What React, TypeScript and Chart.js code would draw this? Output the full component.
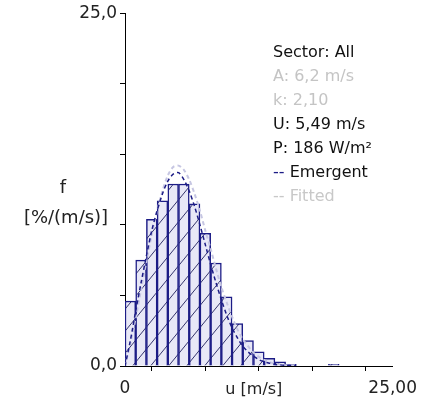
import React, { useEffect, useRef } from 'react';
import { Chart, registerables } from 'chart.js';

Chart.register(...registerables);

// Histogram bins (bin centres, m/s) and frequencies (%/(m/s))
const binCenters = [0.5, 1.5, 2.5, 3.5, 4.5, 5.5, 6.5, 7.5, 8.5, 9.5, 10.5, 11.5, 12.5, 13.5, 14.5, 15.5, 19.5];
const binValues = [4.6, 7.5, 10.4, 11.7, 12.9, 12.9, 11.5, 9.4, 7.3, 4.9, 3.0, 1.8, 1.0, 0.55, 0.3, 0.12, 0.12];

// Emergent distribution curve
const emergentU = [0, 0.5, 1, 1.5, 2, 2.5, 3, 3.5, 4, 4.5, 5, 5.5, 6, 6.5, 7, 7.5, 8, 8.5, 9, 9.5, 10, 10.5, 11, 11.5, 12, 12.5, 13, 13.5, 14, 15, 16];
const emergentF = [0, 1.8, 3.9, 5.9, 7.8, 9.6, 11.0, 12.2, 13.1, 13.6, 13.7, 13.2, 12.4, 11.3, 10.0, 8.6, 7.2, 5.9, 4.7, 3.6, 2.7, 2.0, 1.4, 1.0, 0.7, 0.45, 0.3, 0.2, 0.12, 0.05, 0.02];

// Fitted (Weibull) curve
const fittedU = [0, 0.5, 1, 1.5, 2, 2.5, 3, 3.5, 4, 4.5, 5, 5.5, 6, 6.5, 7, 7.5, 8, 8.5, 9, 9.5, 10, 10.5, 11, 11.5, 12, 12.5, 13, 14, 15, 16];
const fittedF = [0, 1.6, 3.4, 5.4, 7.4, 9.3, 11.0, 12.4, 13.5, 14.1, 14.2, 13.9, 13.2, 12.2, 11.0, 9.6, 8.3, 6.9, 5.6, 4.5, 3.5, 2.6, 1.9, 1.4, 0.95, 0.65, 0.43, 0.17, 0.06, 0.02];

const yTickLabels: Record<number, string> = { 0: '0,0', 25: '25,0' };
const xTickLabels: Record<number, string> = { 0: '0', 25: '25,00' };
const yTitleLines = ['f', '[%/(m/s)]'];
const xTitle = 'u [m/s]';

const infoLines = ['Sector: All', 'A: 6,2 m/s', 'k: 2,10', 'U: 5,49 m/s', 'P: 186 W/m\u00B2'];
const infoColors = ['#111111', '#c4c4c4', '#c4c4c4', '#111111', '#111111'];
const legendNames = ['Emergent', 'Fitted'];

const FONT = '"DejaVu Sans", Verdana, sans-serif';
const NAVY = '#1c1c86';
const LIGHT = '#c6c6e2';

function makeHatch(): CanvasPattern | string {
  const c = document.createElement('canvas');
  const w = 18;
  const h = 22;
  c.width = w;
  c.height = h;
  const g = c.getContext('2d');
  if (!g) return '#e4e4f4';
  g.fillStyle = '#e8e8f7';
  g.fillRect(0, 0, w, h);
  g.strokeStyle = '#34346c';
  g.lineWidth = 1;
  g.beginPath();
  for (let k = -1; k <= 1; k++) {
    g.moveTo(-2, h + k * h + (2 * h) / w);
    g.lineTo(w + 2, k * h - (2 * h) / w);
  }
  g.stroke();
  const p = g.createPattern(c, 'repeat');
  return p || '#e4e4f4';
}

const overlayPlugin = {
  id: 'overlayText',
  afterDraw(chart: any) {
    const ctx = chart.ctx as CanvasRenderingContext2D;
    const area = chart.chartArea;
    ctx.save();
    ctx.textBaseline = 'middle';
    // axis titles
    ctx.font = `18px ${FONT}`;
    ctx.fillStyle = '#222222';
    ctx.textAlign = 'center';
    ctx.fillText(yTitleLines[0], 63, 188);
    ctx.fillText(yTitleLines[1], 66, 218);
    ctx.font = `16px ${FONT}`;
    ctx.fillText(xTitle, (area.left + area.right) / 2 - 5, 390);
    // info block
    ctx.font = `16px ${FONT}`;
    ctx.textAlign = 'left';
    const x0 = 273;
    let y = 53;
    const step = 24;
    infoLines.forEach((t, i) => {
      ctx.fillStyle = infoColors[i];
      ctx.fillText(t, x0, y);
      y += step;
    });
    // legend lines
    ctx.fillStyle = NAVY;
    ctx.fillText('--', x0, y);
    const dw = ctx.measureText('-- ').width;
    ctx.fillStyle = '#111111';
    ctx.fillText(legendNames[0], x0 + dw, y);
    y += step;
    ctx.fillStyle = '#c8c8c8';
    ctx.fillText('-- ' + legendNames[1], x0, y);
    ctx.restore();
  },
};

export default function App() {
  const ref = useRef<HTMLCanvasElement>(null);
  useEffect(() => {
    document.body.style.margin = '0';
    const canvas = ref.current;
    if (!canvas) return;
    const hatch = makeHatch();
    const chart = new Chart(canvas, {
      type: 'bar',
      data: {
        datasets: [
          {
            type: 'line',
            label: legendNames[0],
            data: emergentU.map((u, i) => ({ x: u, y: emergentF[i] })),
            borderColor: NAVY,
            borderWidth: 1.5,
            borderDash: [4, 3],
            pointRadius: 0,
            tension: 0.3,
            fill: false,
            order: 1,
          } as any,
          {
            type: 'line',
            label: legendNames[1],
            data: fittedU.map((u, i) => ({ x: u, y: fittedF[i] })),
            borderColor: LIGHT,
            borderWidth: 2,
            borderDash: [4, 3],
            pointRadius: 0,
            tension: 0.3,
            fill: false,
            order: 2,
          } as any,
          {
            type: 'bar',
            label: 'Histogram',
            data: binCenters.map((u, i) => ({ x: u, y: binValues[i] })),
            backgroundColor: hatch as any,
            borderColor: NAVY,
            borderWidth: { left: 1.5, right: 1.5, top: 1.5, bottom: 0 },
            borderSkipped: false,
            barPercentage: 1,
            categoryPercentage: 1,
            order: 3,
          } as any,
        ],
      },
      options: {
        responsive: false,
        animation: false,
        devicePixelRatio: 1,
        layout: { padding: { left: 0, right: 29, top: 12, bottom: 0 } },
        plugins: {
          legend: { display: false },
          tooltip: { enabled: false },
        },
        scales: {
          x: {
            type: 'linear',
            min: 0,
            max: 25,
            offset: false,
            ticks: {
              stepSize: 5,
              autoSkip: false,
              maxRotation: 0,
              padding: 7,
              color: '#222222',
              font: { family: FONT, size: 17 },
              callback: (v: any) => xTickLabels[Number(v)] ?? '',
            },
            grid: {
              display: true,
              drawOnChartArea: false,
              drawTicks: true,
              tickLength: 5,
              color: '#000000',
            },
            border: { display: true, color: '#000000', width: 1 },
            afterFit: (s: any) => {
              s.height = 39;
            },
          },
          y: {
            type: 'linear',
            min: 0,
            max: 25,
            ticks: {
              stepSize: 5,
              autoSkip: false,
              padding: 3,
              color: '#222222',
              font: { family: FONT, size: 17 },
              callback: (v: any) => yTickLabels[Number(v)] ?? '',
            },
            grid: {
              display: true,
              drawOnChartArea: false,
              drawTicks: true,
              tickLength: 5,
              color: '#000000',
            },
            border: { display: true, color: '#000000', width: 1 },
            afterFit: (s: any) => {
              s.width = 125;
            },
          },
        },
      },
      plugins: [overlayPlugin],
    });
    return () => chart.destroy();
  }, []);
  return (
    <div style={{ width: 424, height: 405, background: '#ffffff' }}>
      <canvas ref={ref} width={424} height={405} style={{ display: 'block' }} />
    </div>
  );
}
